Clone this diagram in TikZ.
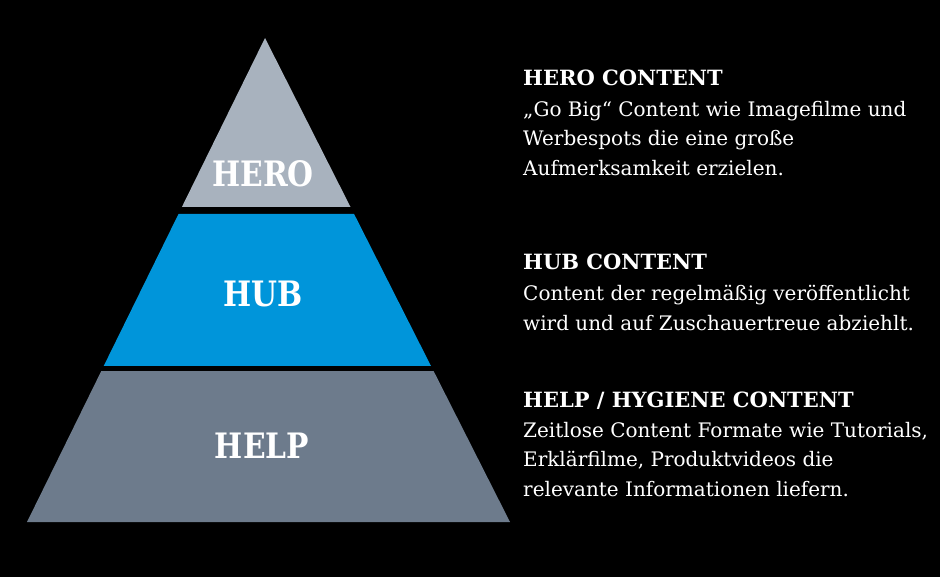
\documentclass[tikz,border=0pt]{standalone}
\usepackage{fontspec}
\setmainfont{DejaVu Serif}
\newfontfamily\tierfont[FakeStretch=0.85]{DejaVu Serif}
\usepackage{tikz}
\usetikzlibrary{positioning}

\definecolor{herogrey}{HTML}{A8B2BE}
\definecolor{hubblue}{HTML}{0095DA}
\definecolor{helpslate}{HTML}{6D7B8C}

\begin{document}
\begin{tikzpicture}[%
    x=1pt,
    y=-1pt,
    tier/.style={%
      font=\tierfont\bfseries\fontsize{35}{40}\selectfont,
      text=white,
      inner sep=0pt,
      anchor=base
    },
    head/.style={%
      font=\bfseries\fontsize{21}{29.5}\selectfont,
      text=white,
      inner sep=0pt,
      anchor=base west
    },
    body/.style={%
      font=\fontsize{20}{29.5}\selectfont,
      text=white,
      inner sep=0pt,
      align=left,
      anchor=north west
    }
  ]
    \fill[black] (0,0) rectangle (940,577);
    \useasboundingbox (0,0) rectangle (940,577);

    % pyramid
    \fill[herogrey]  (265,38) -- (350.5,207) -- (181.9,207) -- cycle;
    \fill[hubblue]   (178.5,214) -- (354.1,214) -- (431.0,366) -- (103.7,366) -- cycle;
    \fill[helpslate] (101.3,371) -- (433.6,371) -- (510,522) -- (27,522) -- cycle;

    \node[tier] (hero) at (263,187) {HERO};
    \node[tier] (hub)  at (263,307) {HUB};
    \node[tier] (help) at (262,458) {HELP};

    % descriptions
    \node[head] (herohead) at (523,86) {HERO CONTENT};
    \node[body] (herotext) at ([yshift=-15]herohead.base west)
      {„Go Big“ Content wie Imagefilme und\\Werbespots die eine große\\Aufmerksamkeit erzielen.};

    \node[head] (hubhead) at (523,270) {HUB CONTENT};
    \node[body] (hubtext) at ([yshift=-15]hubhead.base west)
      {Content der regelmäßig veröffentlicht\\wird und auf Zuschauertreue abziehlt.};

    \node[head] (helphead) at (523,407) {HELP / HYGIENE CONTENT};
    \node[body] (helptext) at ([yshift=-15]helphead.base west)
      {Zeitlose Content Formate wie Tutorials,\\Erklärfilme, Produktvideos die\\relevante Informationen liefern.};
  \end{tikzpicture}
\end{document}
